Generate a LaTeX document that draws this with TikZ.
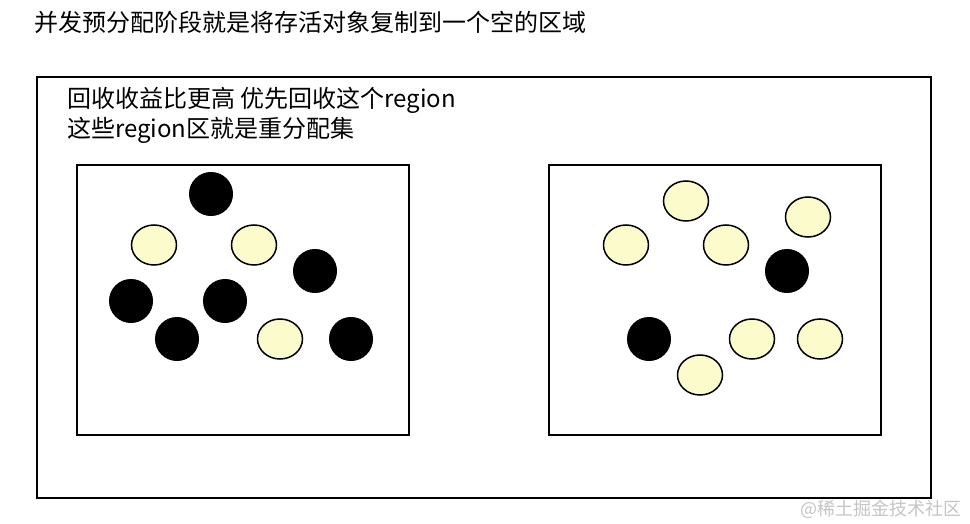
\documentclass[tikz,border=0pt]{standalone}
\usepackage{fontspec}
\setmainfont{Liberation Sans}
\newfontfamily\cjk{Noto Sans CJK SC}
\usetikzlibrary{shapes.geometric}
\definecolor{livefill}{HTML}{FBFBCC}
\definecolor{wmgray}{HTML}{C4C4C4}
\tikzset{
  frame/.style={draw=black, line width=2pt},
  deadobj/.style={ellipse, draw=black, fill=black, line width=1pt, inner sep=0pt, minimum width=43pt, minimum height=43pt},
  liveobj/.style={ellipse, draw=black, fill=livefill, line width=1.5pt, inner sep=0pt, minimum width=45pt, minimum height=40pt},
  caption/.style={anchor=west, inner sep=0pt, font=\cjk\fontsize{24}{28}\selectfont},
}
\begin{document}
\begin{tikzpicture}[x=1pt, y=-1pt]
\useasboundingbox (0,0) rectangle (970,524);
\node[caption] (title) at (34,22) {并发预分配阶段就是将存活对象复制到一个空的区域};
\draw[frame] (37,77) rectangle (931,498);
\node[caption] (l1) at (67,100) {回收收益比更高 优先回收这个region};
\node[caption] (l2) at (67,130) {这些region区就是重分配集};
\draw[frame] (77,165) rectangle (409,435);
\draw[frame] (549,165) rectangle (881,435);
% left region
\node[deadobj] (a1) at (211,194) {};
\node[liveobj] (a2) at (154,245) {};
\node[liveobj] (a3) at (254,245) {};
\node[deadobj] (a4) at (315,271) {};
\node[deadobj] (a5) at (131,301) {};
\node[deadobj] (a6) at (225,301) {};
\node[deadobj] (a7) at (177,339) {};
\node[liveobj] (a8) at (280,339) {};
\node[deadobj] (a9) at (351,339) {};
% right region
\node[liveobj] (b1) at (686,201) {};
\node[liveobj] (b2) at (808,217) {};
\node[liveobj] (b3) at (626,245) {};
\node[liveobj] (b4) at (726,245) {};
\node[deadobj] (b5) at (787,271) {};
\node[deadobj] (b6) at (649,339) {};
\node[liveobj] (b7) at (752,339) {};
\node[liveobj] (b8) at (820,339) {};
\node[liveobj] (b9) at (700,375) {};
\node[anchor=east, inner sep=0pt, text=wmgray, font=\cjk\fontsize{18}{21}\selectfont] (wm) at (962,509) {@稀土掘金技术社区};
\end{tikzpicture}
\end{document}
